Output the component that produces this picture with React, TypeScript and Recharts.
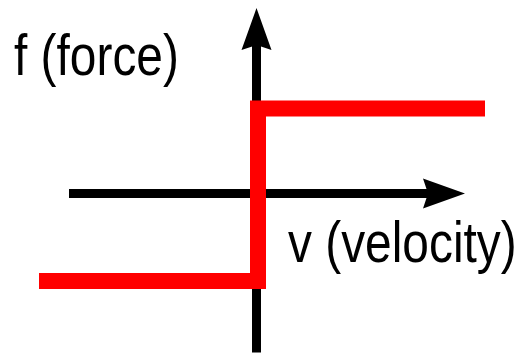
import React from 'react';
import { ComposedChart, Line, Scatter, XAxis, YAxis, Customized } from 'recharts';

// Friction step: force vs velocity
const stepVelocity = [-2.19, 0, 0, 2.27];
const stepForce = [-0.875, -0.875, 0.85, 0.85];

// Axis shafts
const vAxisVelocity = [-1.89, 1.72];
const vAxisForce = [0, 0];
const fAxisVelocity = [-0.015, -0.015];
const fAxisForce = [-1.59, 1.5];

// Arrow tips
const tipVelocity = [2.07, -0.015];
const tipForce = [0, 1.855];
const tipDir = ['right', 'up'];

const xLabel = 'v (velocity)';
const yLabel = 'f (force)';

const toRows = (xs: number[], ys: number[]) => xs.map((v, i) => ({ v, f: ys[i] }));
const stepData = toRows(stepVelocity, stepForce);
const vAxisData = toRows(vAxisVelocity, vAxisForce);
const fAxisData = toRows(fAxisVelocity, fAxisForce);
const tipData = tipVelocity.map((v, i) => ({ v, f: tipForce[i], dir: tipDir[i] }));

const Arrow = (props: any) => {
  const { cx, cy, payload } = props;
  if (cx == null || cy == null) return null;
  const pts =
    payload.dir === 'up'
      ? [[0, 0], [15, 42], [0, 37], [-15, 42]]
      : [[0, 0], [-42, 15], [-37, 0], [-42, -15]];
  return (
    <polygon
      points={pts.map(([x, y]) => `${cx + x},${cy + y}`).join(' ')}
      fill="#000"
      stroke="none"
    />
  );
};

const Labels = () => (
  <g style={{ fontFamily: '"Liberation Sans", Arial, sans-serif' }} fill="#000">
    <text transform="translate(14,75) scale(0.84,1)" fontSize={57}>{yLabel}</text>
    <text transform="translate(288,262) scale(0.84,1)" fontSize={57}>{xLabel}</text>
  </g>
);

export default function App() {
  return (
    <div style={{ position: 'absolute', left: 0, top: 0, width: 517, height: 353, background: '#fff' }}>
      <ComposedChart width={517} height={353} margin={{ top: 0, right: 0, bottom: 0, left: 0 }}>
        <XAxis dataKey="v" type="number" domain={[-2.58, 2.59]} hide allowDataOverflow />
        <YAxis dataKey="f" type="number" domain={[-1.595, 1.935]} hide allowDataOverflow />
        <Line data={vAxisData} dataKey="f" stroke="#000" strokeWidth={9} dot={false} activeDot={false} isAnimationActive={false} strokeLinecap="butt" />
        <Line data={fAxisData} dataKey="f" stroke="#000" strokeWidth={9} dot={false} activeDot={false} isAnimationActive={false} strokeLinecap="butt" />
        <Scatter data={tipData} dataKey="f" shape={<Arrow />} isAnimationActive={false} />
        <Line data={stepData} dataKey="f" stroke="#ff0000" strokeWidth={16} dot={false} activeDot={false} isAnimationActive={false} strokeLinecap="butt" strokeLinejoin="miter" />
        <Customized component={Labels} />
      </ComposedChart>
    </div>
  );
}
